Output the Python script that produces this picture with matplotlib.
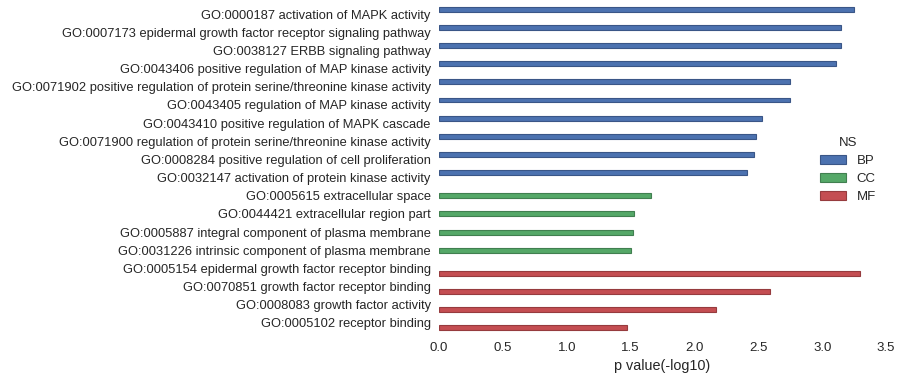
import matplotlib
matplotlib.use("Agg")
import matplotlib.pyplot as plt
from matplotlib.patches import Patch

terms = [
    "GO:0000187 activation of MAPK activity",
    "GO:0007173 epidermal growth factor receptor signaling pathway",
    "GO:0038127 ERBB signaling pathway",
    "GO:0043406 positive regulation of MAP kinase activity",
    "GO:0071902 positive regulation of protein serine/threonine kinase activity",
    "GO:0043405 regulation of MAP kinase activity",
    "GO:0043410 positive regulation of MAPK cascade",
    "GO:0071900 regulation of protein serine/threonine kinase activity",
    "GO:0008284 positive regulation of cell proliferation",
    "GO:0032147 activation of protein kinase activity",
    "GO:0005615 extracellular space",
    "GO:0044421 extracellular region part",
    "GO:0005887 integral component of plasma membrane",
    "GO:0031226 intrinsic component of plasma membrane",
    "GO:0005154 epidermal growth factor receptor binding",
    "GO:0070851 growth factor receptor binding",
    "GO:0008083 growth factor activity",
    "GO:0005102 receptor binding",
]
ns = ["BP"] * 10 + ["CC"] * 4 + ["MF"] * 4
values = [3.25, 3.15, 3.15, 3.11, 2.75, 2.75, 2.53, 2.48, 2.47, 2.41,
          1.66, 1.53, 1.52, 1.50,
          3.30, 2.59, 2.17, 1.47]
groups = ["BP", "CC", "MF"]
colors = {"BP": "#4C72B0", "CC": "#55A868", "MF": "#C44E52"}
edges = {"BP": "#3a5687", "CC": "#417f50", "MF": "#963b3e"}

plt.rcParams['font.family'] = ['Liberation Sans', 'DejaVu Sans']
fig = plt.figure(figsize=(9.02, 3.79), dpi=100)
ax = fig.add_axes([439/902, 1 - 332/379, (886-439)/902, (332-5)/379])

width = 0.8 / len(groups)
for i, (t, g, v) in enumerate(zip(terms, ns, values)):
    k = groups.index(g)
    off = -0.4 + width * (k + 0.5)
    ax.barh(i + off, v, height=width, color=colors[g], edgecolor=edges[g], linewidth=0.8)

ax.set_yticks(range(len(terms)))
ax.set_yticklabels(terms)
ax.set_ylim(len(terms) - 0.5, -0.5)
ax.set_xlim(0, 3.5)
ax.set_xticks([0, 0.5, 1.0, 1.5, 2.0, 2.5, 3.0, 3.5])
ax.set_xticklabels(["0.0", "0.5", "1.0", "1.5", "2.0", "2.5", "3.0", "3.5"])
ax.set_xlabel("p value(-log10)", fontsize=10.4, color="#262626", labelpad=4)
ax.tick_params(axis='y', length=0, labelsize=9.3, colors="#262626", pad=6)
ax.tick_params(axis='x', length=0, labelsize=9.5, colors="#262626", pad=7)
for s in ax.spines.values():
    s.set_visible(False)

handles = [Patch(facecolor=colors[g], edgecolor=edges[g], linewidth=0.8, label=g) for g in groups]
leg = ax.legend(handles=handles, title="NS", loc="center left", bbox_to_anchor=(0.825, 0.495),
                frameon=False, fontsize=9.5, title_fontsize=9.5, labelspacing=0.45)
for txt in leg.get_texts():
    txt.set_color("#262626")
leg.get_title().set_color("#262626")

fig.savefig("out.png", dpi=100)
